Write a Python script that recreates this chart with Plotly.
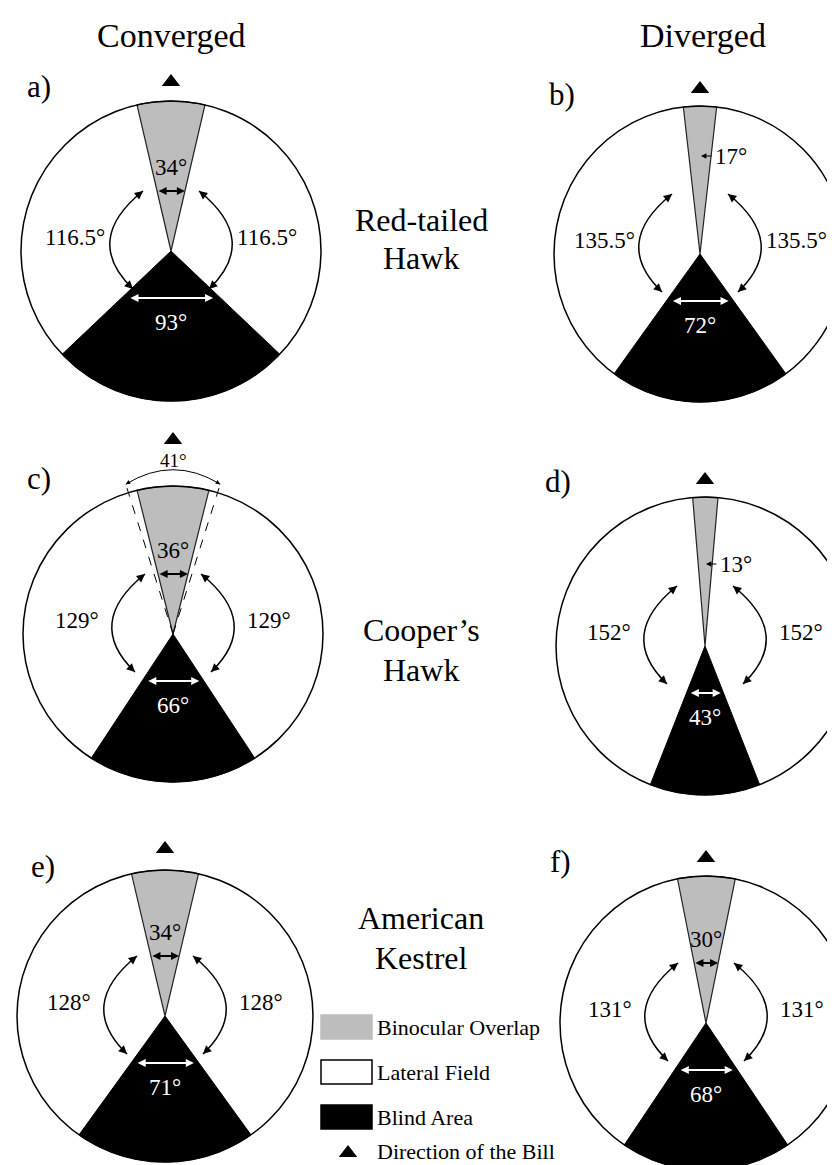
import numpy as np
import plotly.graph_objects as go

# ---------------- data ----------------
conditions = ["Converged", "Diverged"]
species = [["Red-tailed", "Hawk"], ["Cooper’s", "Hawk"], ["American", "Kestrel"]]
panel_labels = ["a)", "b)", "c)", "d)", "e)", "f)"]
binocular_deg = [34, 17, 36, 13, 34, 30]
lateral_deg = [116.5, 135.5, 129, 152, 128, 131]
blind_deg = [93, 72, 66, 43, 71, 68]
cooper_max_binocular_deg = 41
legend_labels = ["Binocular Overlap", "Lateral Field", "Blind Area", "Direction of the Bill"]

# ---------------- layout / style ----------------
W, H = 835, 1165
SERIF = "Liberation Serif, Times New Roman, Times, DejaVu Serif, serif"
GRAY = "#bdbdbd"
BINOC_DRAW = 0.77          # drawing factor used in the original figure for the overlap wedge
centers = [(163, 243), (692, 246), (165, 626), (697, 638), (157, 1008), (698, 1015)]
radii = [(150, 150), (146, 148), (150, 148), (149, 149), (148, 146), (146, 147)]
label_pos = [(31, 78), (554, 86), (31, 470), (550, 473), (35, 858), (552, 853)]
bill_gap = [19, 17, 46, 17, 21, 18]
header_pos = [(163, 27), (695, 27)]
species_pos = [(413, 212, 250), (413, 622, 662), (413, 910, 950)]

fig = go.Figure()
shapes, annotations = [], []


def text(x, y, s, size, color="black", xanchor="center"):
    annotations.append(dict(x=x, y=y, xref="x", yref="y", text=s, showarrow=False,
                            font=dict(family=SERIF, size=size, color=color),
                            xanchor=xanchor, yanchor="middle"))


def arrow(x0, y0, x1, y1, color="black", both=False, width=1.5, head=2, size=1.0):
    d = dict(x=x1, y=y1, ax=x0, ay=y0, xref="x", yref="y", axref="x", ayref="y",
             text="", showarrow=True, arrowhead=head, arrowsize=size, arrowwidth=width,
             arrowcolor=color, standoff=0, startstandoff=0)
    if both:
        d.update(arrowside="end+start", startarrowhead=head, startarrowsize=size)
    annotations.append(d)


def wedge_xy(cx, cy, rx, ry, mid_deg, width_deg, n=80):
    th = np.radians(np.linspace(mid_deg - width_deg / 2, mid_deg + width_deg / 2, n))
    xs = cx + rx * np.sin(th)
    ys = cy - ry * np.cos(th)
    return [cx] + list(xs) + [cx], [cy] + list(ys) + [cy]


def curved_arrow(p0, p2, bulge_x):
    cxp = 2 * bulge_x - 0.5 * (p0[0] + p2[0])
    cyp = 0.5 * (p0[1] + p2[1])
    shapes.append(dict(type="path", xref="x", yref="y",
                       path=f"M {p0[0]},{p0[1]} Q {cxp},{cyp} {p2[0]},{p2[1]}",
                       line=dict(color="black", width=1.5)))
    for p in (p0, p2):
        v = np.array([p[0] - cxp, p[1] - cyp], float)
        v /= np.linalg.norm(v)
        arrow(p[0] - 6 * v[0], p[1] - 6 * v[1], p[0], p[1], head=2, size=1.1)


bill_x, bill_y = [], []
for i in range(6):
    cx, cy = centers[i]
    rx, ry = radii[i]
    # white lateral field disc
    shapes.append(dict(type="circle", xref="x", yref="y", layer="below",
                       x0=cx - rx, x1=cx + rx, y0=cy - ry, y1=cy + ry,
                       fillcolor="white", line=dict(width=0)))
    # binocular overlap wedge
    gx, gy = wedge_xy(cx, cy, rx, ry, 0, binocular_deg[i] * BINOC_DRAW)
    fig.add_trace(go.Scatter(x=gx, y=gy, mode="lines", fill="toself", fillcolor=GRAY,
                             line=dict(color="#222", width=1.2), hoverinfo="skip",
                             showlegend=False))
    # blind area wedge
    bx, by = wedge_xy(cx, cy, rx, ry, 180, blind_deg[i])
    fig.add_trace(go.Scatter(x=bx, y=by, mode="lines", fill="toself", fillcolor="black",
                             line=dict(color="black", width=1), hoverinfo="skip",
                             showlegend=False))
    # outline
    shapes.append(dict(type="circle", xref="x", yref="y", layer="above",
                       x0=cx - rx, x1=cx + rx, y0=cy - ry, y1=cy + ry,
                       line=dict(color="black", width=1.5)))
    # bill direction
    bill_x.append(cx)
    bill_y.append(cy - ry - bill_gap[i])
    # panel letter
    text(label_pos[i][0], label_pos[i][1], panel_labels[i], 31)

    # binocular label
    half_g = np.radians(binocular_deg[i] * BINOC_DRAW / 2)
    if binocular_deg[i] >= 20:
        ya = cy - 60
        hw = (cy - ya) * np.tan(half_g) * rx / ry
        arrow(cx - hw, ya, cx + hw, ya, both=True, width=1.8, head=2, size=0.9)
        text(cx, cy - 84, f"{binocular_deg[i]}°", 23)
    else:
        ya = cy - 90 + (8 if i == 3 else -8)
        arrow(cx + 13, ya, cx + 1, ya, width=1.2, head=2, size=0.9)
        text(cx + 13, ya, f"{binocular_deg[i]}°", 23, xanchor="left")

    # lateral field arcs + labels
    for s in (-1, 1):
        curved_arrow((cx + s * 28, cy - 60), (cx + s * 38, cy + 38), cx + s * 61)
        text(cx + s * 96, cy - 14, f"{lateral_deg[i]:g}°", 23)

    # blind area label
    yb = cy + 47
    half_b = np.radians(blind_deg[i] / 2)
    hwb = 0.85 * (yb - cy) * np.tan(half_b) * rx / ry
    arrow(cx - hwb, yb, cx + hwb, yb, color="white", both=True, width=1.8, head=2, size=0.9)
    text(cx, cy + 71, f"{blind_deg[i]}°", 23, color="white")

# Cooper's hawk converged: maximum binocular field (dashed)
cx, cy = centers[2]
rx, ry = radii[2]
hm = np.radians(cooper_max_binocular_deg * BINOC_DRAW / 2 + 1.5)
ends = []
for s in (-1, 1):
    ex = cx + s * 1.06 * rx * np.sin(hm)
    ey = cy - 1.06 * ry * np.cos(hm)
    shapes.append(dict(type="line", xref="x", yref="y", x0=cx, y0=cy, x1=ex, y1=ey,
                       line=dict(color="black", width=1, dash="dash")))
    ends.append((ex, ey))
ctrl_y = 2 * (cy - 1.11 * ry) - ends[0][1]
shapes.append(dict(type="path", xref="x", yref="y",
                   path=f"M {ends[0][0]},{ends[0][1]} Q {cx},{ctrl_y} {ends[1][0]},{ends[1][1]}",
                   line=dict(color="black", width=1)))
for e in ends:
    v = np.array([e[0] - cx, e[1] - ctrl_y], float)
    v /= np.linalg.norm(v)
    arrow(e[0] - 5 * v[0], e[1] - 5 * v[1], e[0], e[1], width=1, head=2, size=0.9)
text(cx, cy - ry - 26, f"{cooper_max_binocular_deg}°", 19)

# headers and species names
for j, c in enumerate(conditions):
    text(header_pos[j][0], header_pos[j][1], c, 34)
for k, sp in enumerate(species):
    x, y1, y2 = species_pos[k]
    text(x, y1, sp[0], 32)
    text(x, y2, sp[1], 32)

# legend
sw_x0, sw_x1 = 313, 364
legend_y = [1019, 1064, 1109, 1143]
legend_fill = [GRAY, "white", "black"]
legend_line = [GRAY, "black", "black"]
for k in range(3):
    shapes.append(dict(type="rect", xref="x", yref="y", x0=sw_x0, x1=sw_x1,
                       y0=legend_y[k] - 12, y1=legend_y[k] + 12,
                       fillcolor=legend_fill[k], line=dict(color=legend_line[k], width=1.5)))
for k in range(4):
    text(367, legend_y[k], legend_labels[k], 22, xanchor="left")
bill_x.append(340)
bill_y.append(legend_y[3] + 2)

fig.add_trace(go.Scatter(x=bill_x, y=bill_y, mode="markers",
                         marker=dict(symbol="triangle-up", size=16, color="black"),
                         hoverinfo="skip", showlegend=False))

fig.update_layout(
    width=W, height=H, margin=dict(l=0, r=0, t=0, b=0),
    paper_bgcolor="white", plot_bgcolor="white",
    xaxis=dict(range=[0, W], visible=False, fixedrange=True),
    yaxis=dict(range=[H, 0], visible=False, fixedrange=True),
    shapes=shapes, annotations=annotations, showlegend=False,
)
fig.write_html("out.html")
